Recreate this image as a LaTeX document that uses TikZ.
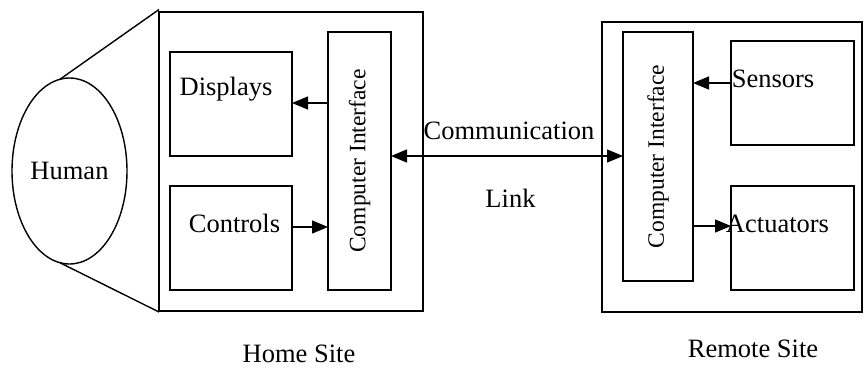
\documentclass[tikz,border=0pt]{standalone}
\usepackage{fontspec}
\setmainfont{Liberation Serif}
\usetikzlibrary{shapes.geometric,arrows.meta}
\tikzset{
  box/.style={draw, line width=1.4pt, rectangle, inner sep=0pt, outer sep=0pt},
  lbl/.style={inner sep=0pt, font=\fontsize{26.5}{30}\selectfont},
  cilbl/.style={inner sep=0pt, font=\fontsize{23.5}{28}\selectfont, rotate=90},
  tip/.style={Triangle[length=16pt,width=13pt]},
  arr/.style={line width=1.4pt, -{Triangle[length=16pt,width=13pt]}},
  conn/.style={line width=1.4pt}
}
\begin{document}
\begin{tikzpicture}[x=1pt,y=-1pt]
\useasboundingbox (0,0) rectangle (864,367);
% Home site
\node[box, minimum width=264pt, minimum height=299pt] (home) at (291,161.5) {};
\node[box, minimum width=122pt, minimum height=104pt] (disp) at (231,104) {};
\node[box, minimum width=122pt, minimum height=104pt] (ctrl) at (231,238) {};
\node[box, minimum width=63pt, minimum height=258pt] (ciH) at (359.5,161) {};
\node[cilbl] (ciHt) at (ciH.center) {Computer Interface};
\node[lbl, anchor=base] (dispT) at (226,95) {Displays};
\node[lbl, anchor=base] (ctrlT) at (234.5,232) {Controls};
% Human
\node[draw, line width=1.4pt, ellipse, minimum width=115pt, minimum height=186pt, inner sep=0pt, outer sep=0pt, font=\fontsize{26.5}{30}\selectfont] (human) at (69.5,171) {Human};
\coordinate (topEnd) at (159,9.5);
\coordinate (botEnd) at (159,312);
\draw[conn] (human.96) -- (topEnd);
\draw[conn] (human.264) -- (botEnd);
% Remote site
\node[box, minimum width=260pt, minimum height=290pt] (remote) at (732,167) {};
\node[box, minimum width=70pt, minimum height=249pt] (ciR) at (658,156.5) {};
\node[cilbl] (ciRt) at (ciR.center) {Computer Interface};
\node[box, minimum width=123pt, minimum height=104pt] (sens) at (792.5,93) {};
\node[box, minimum width=123pt, minimum height=104pt] (act) at (792.5,238) {};
\node[lbl, anchor=base] (sensT) at (773,87) {Sensors};
\node[lbl, anchor=base] (actT) at (777.5,232) {Actuators};
% Arrows
\draw[arr] (ciH.west |- 0,103) -- (disp.east |- 0,103);
\draw[arr] (ctrl.east |- 0,227) -- (ciH.west |- 0,227);
\draw[line width=1.4pt, {Triangle[length=16pt,width=13pt]}-{Triangle[length=16pt,width=13pt]}] (ciH.east |- 0,156) -- (ciR.west |- 0,156);
\draw[arr] (sens.west |- 0,83) -- (ciR.east |- 0,83);
\draw[arr] (ciR.east |- 0,226) -- (act.west |- 0,226);
% Labels
\node[lbl, anchor=base] (commT) at (509,139) {Communication};
\node[lbl, anchor=base] (linkT) at (510.5,207) {Link};
\node[lbl, anchor=base] (homeT) at (299,362) {Home Site};
\node[lbl, anchor=base] (remoteT) at (753,357) {Remote Site};
\end{tikzpicture}
\end{document}
